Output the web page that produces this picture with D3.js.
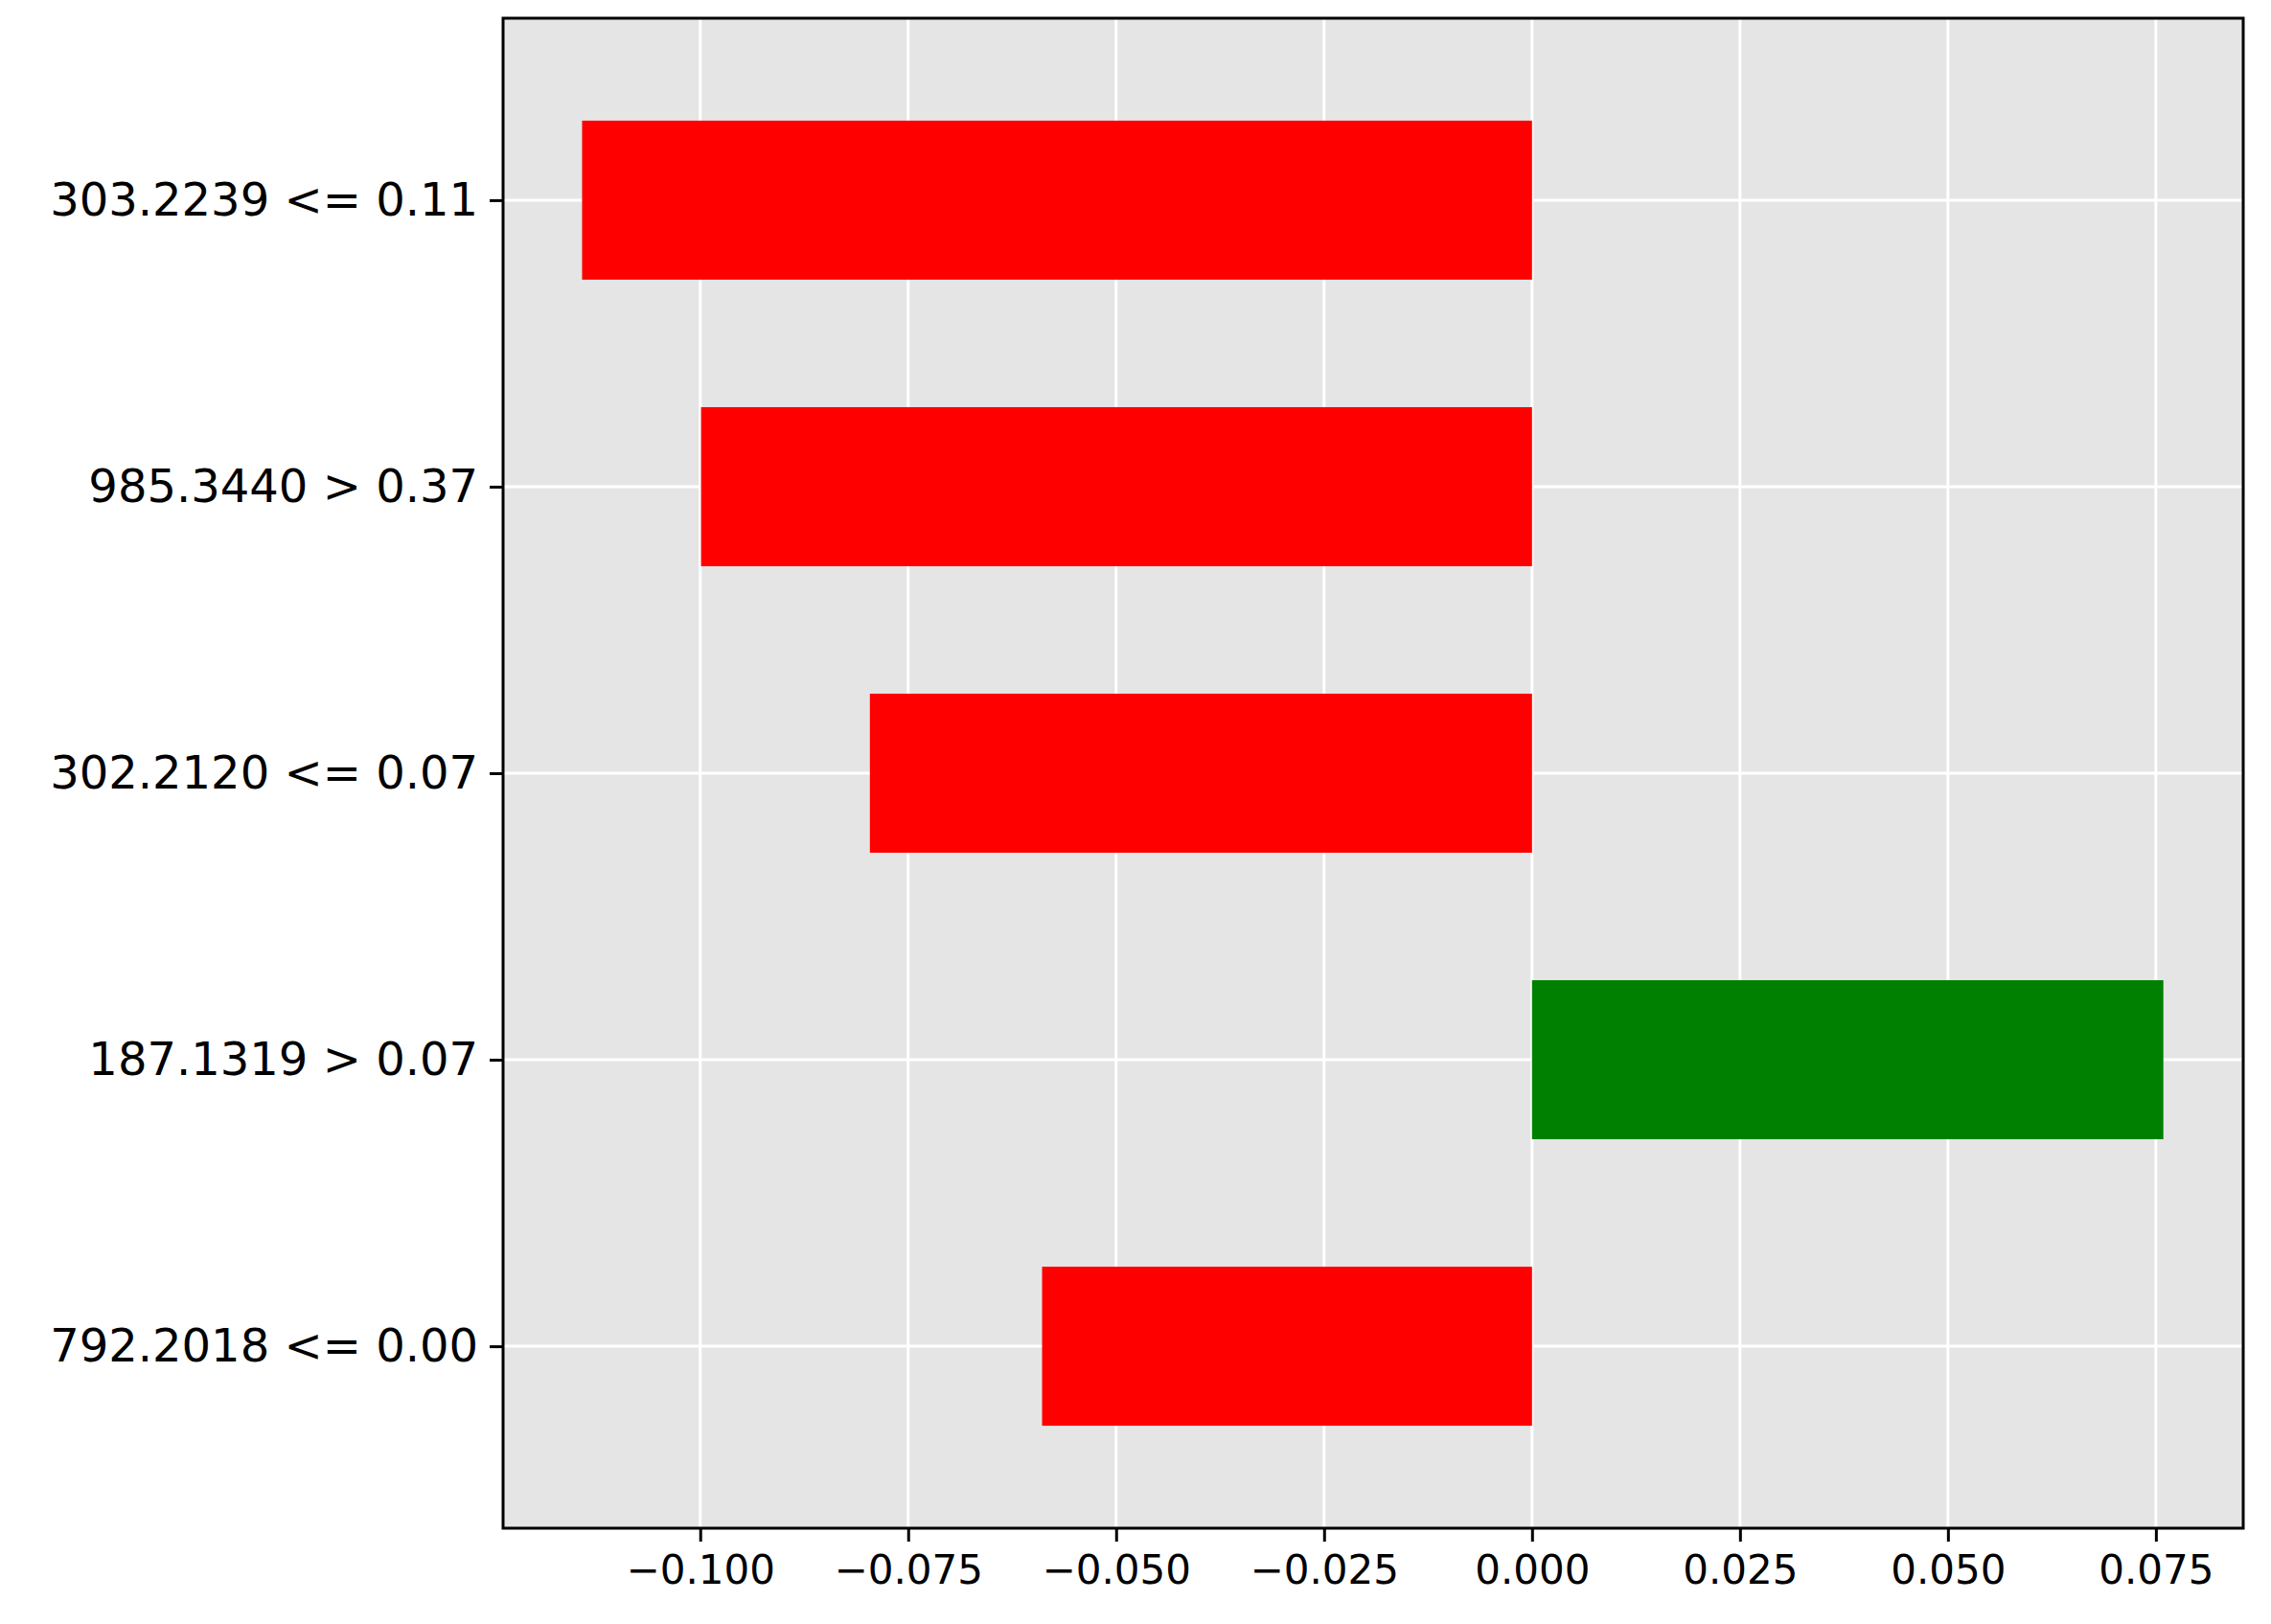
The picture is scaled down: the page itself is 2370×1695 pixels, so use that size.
<!DOCTYPE html><html><head><meta charset="utf-8"><script src="https://cdn.jsdelivr.net/npm/d3@7"></script>
<style>body{margin:0;background:#fff}text{font-family:"DejaVu Sans",sans-serif}</style></head><body>
<script>
const categories=["303.2239 <= 0.11","985.3440 > 0.37","302.2120 <= 0.07","187.1319 > 0.07","792.2018 <= 0.00"];
const values=[-0.1142,-0.0999,-0.0796,0.0759,-0.0589];
const xTicks=[-0.100,-0.075,-0.050,-0.025,0.000,0.025,0.050,0.075];
const W=2370,H=1695,L=525,R=2341,T=19,B=1595;
const svg=d3.select("body").append("svg").attr("width",W).attr("height",H);
const x=d3.scaleLinear().domain([-0.1237,0.0855]).range([L,R]);
const y=d3.scaleLinear().domain([-0.635,4.635]).range([T,B]);
svg.append("rect").attr("x",L).attr("y",T).attr("width",R-L).attr("height",B-T).attr("fill","#e5e5e5");
const g=svg.append("g");
xTicks.forEach(t=>g.append("line").attr("x1",x(t)).attr("x2",x(t)).attr("y1",T).attr("y2",B).attr("stroke","#fff").attr("stroke-width",3));
categories.forEach((c,i)=>g.append("line").attr("x1",L).attr("x2",R).attr("y1",y(i)).attr("y2",y(i)).attr("stroke","#fff").attr("stroke-width",3));
const bh=0.555*(y(1)-y(0));
svg.selectAll(".bar").data(values).enter().append("rect")
 .attr("x",d=>x(Math.min(0,d))).attr("width",d=>Math.abs(x(d)-x(0)))
 .attr("y",(d,i)=>y(i)-bh/2).attr("height",bh).attr("fill",d=>d>0?"green":"red");
const xa=svg.append("g").attr("transform",`translate(0,${B})`)
 .call(d3.axisBottom(x).tickValues(xTicks).tickFormat(d=>d3.format(".3f")(d).replace("-","\u2212")).tickSize(14).tickPadding(14));
xa.select(".domain").remove();
xa.selectAll("line").attr("stroke-width",3);
xa.selectAll("text").attr("font-size",42).attr("fill","#000");
const ya=svg.append("g").attr("transform",`translate(${L},0)`)
 .call(d3.axisLeft(y).tickValues(d3.range(categories.length)).tickFormat(i=>categories[i]).tickSize(14).tickPadding(12));
ya.select(".domain").remove();
ya.selectAll("line").attr("stroke-width",3);
ya.selectAll("text").attr("font-size",48).attr("fill","#000");
svg.append("rect").attr("x",L).attr("y",T).attr("width",R-L).attr("height",B-T).attr("fill","none").attr("stroke","#000").attr("stroke-width",3);
</script></body></html>
